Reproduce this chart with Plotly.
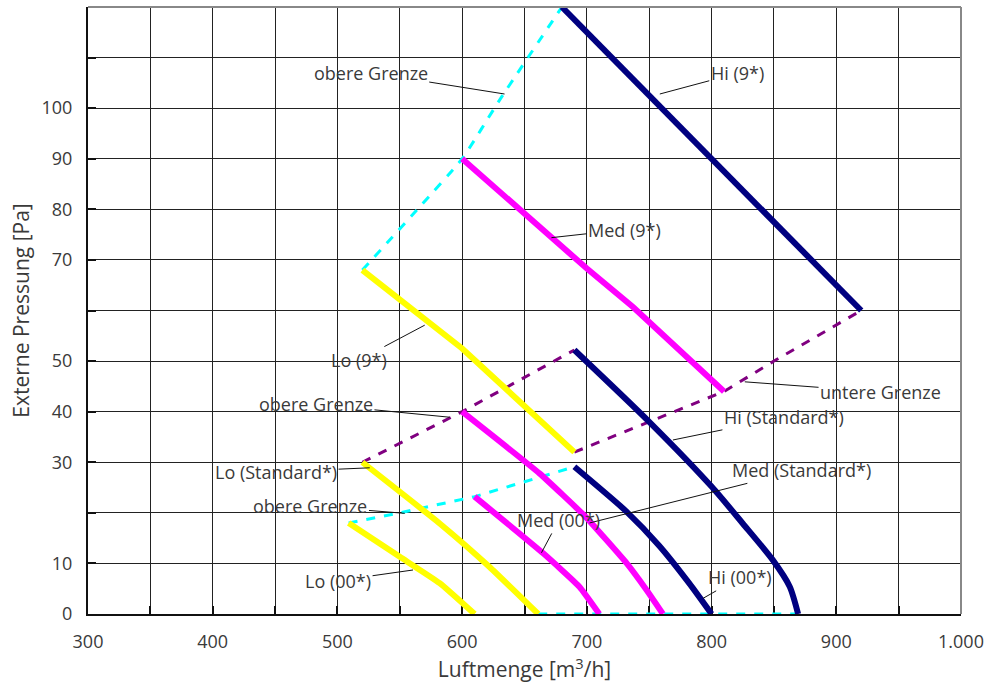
import plotly.graph_objects as go

# ---- data (Luftmenge m3/h, externe Pressung Pa) ----
hi9_x = [680, 920]
hi9_y = [120, 60]
med9_x = [600, 700, 737, 810]
med9_y = [90, 68.3, 60.7, 44]
lo9_x = [520, 600, 690]
lo9_y = [68, 52.5, 32]

hiStd_x = [690, 750, 800, 825, 849, 862.7, 869.4]
hiStd_y = [52.2, 38, 25.2, 17.9, 10.7, 5.4, 0]
medStd_x = [600, 662, 699, 732, 748, 761]
medStd_y = [40, 27.8, 19.2, 10, 4.7, 0]
loStd_x = [520, 582, 622, 661]
loStd_y = [30, 17.9, 9.3, 0]

hi00_x = [690, 732, 758, 782, 800]
hi00_y = [29.1, 20.2, 13.5, 6.1, 0]
med00_x = [610, 665, 694, 710]
med00_y = [23.2, 12, 5.4, 0]
lo00_x = [509, 550, 582, 610]
lo00_y = [18, 11.3, 6.1, 0]

upper9_x = [520, 566, 600, 630, 680]
upper9_y = [68, 80.5, 90, 101.6, 120]
upperStd_x = [520, 600, 690]
upperStd_y = [30, 40, 52.2]
lower_x = [690, 810, 850, 920]
lower_y = [32, 44, 50, 60]
upper00_x = [509, 550, 610, 690]
upper00_y = [18, 20, 23.2, 29.1]
base_x = [661, 869]
base_y = [0, 0]

x_tickvals = [300, 400, 500, 600, 700, 800, 900, 1000]
x_ticktext = ["300", "400", "500", "600", "700", "800", "900", "1.000"]
y_tickvals = [0, 10, 30, 40, 50, 70, 80, 90, 100]
y_ticktext = ["0", "10", "30", "40", "50", "70", "80", "90", "100"]

labels = ["obere Grenze", "Hi (9*)", "Med (9*)", "Lo (9*)", "obere Grenze",
          "untere Grenze", "Hi (Standard*)", "Lo (Standard*)", "Med (Standard*)",
          "obere Grenze", "Med (00*)", "Lo (00*)", "Hi (00*)"]
label_x = [526.7, 820.6, 730.4, 517.2, 482.8, 935.5, 858, 450.8, 871.8, 478.4, 677.6, 500.5, 822.6]
label_y = [107, 106.9, 76.0, 50.2, 41.5, 43.9, 38.9, 28.1, 28.5, 21.4, 18.6, 6.6, 7.25]
point_x = [634, 758.5, 671.6, 570, 590, 826.6, 769, 525.9, 702.2, 554, 663.6, 560.6, 793.2]
point_y = [102.8, 102.8, 74.4, 57.1, 38.9, 45.9, 34.4, 28.9, 18, 19.9, 12.1, 8.7, 3.1]

NAVY = "#000080"
MAG = "#ff00ff"
YEL = "#ffff00"
CYAN = "#00ffff"
PURP = "#800080"
TXT = "#3a3a3a"
FONT = "Open Sans"

fig = go.Figure()

def add_line(x, y, color, width, dash="solid", shape="linear", smooth=0.5):
    fig.add_trace(go.Scatter(x=x, y=y, mode="lines", cliponaxis=False,
                             line=dict(color=color, width=width, dash=dash, shape=shape,
                                       smoothing=smooth),
                             hoverinfo="skip", showlegend=False))

# boundaries
add_line(upper9_x, upper9_y, CYAN, 3, "dash", "spline")
add_line(upperStd_x, upperStd_y, PURP, 3, "dash")
add_line(lower_x, lower_y, PURP, 3, "dash")
add_line(upper00_x, upper00_y, CYAN, 3, "dash")
add_line(base_x, base_y, CYAN, 3, "dash")

# fan curves
add_line(lo9_x, lo9_y, YEL, 6)
add_line(med9_x, med9_y, MAG, 6)
add_line(hi9_x, hi9_y, NAVY, 6)
add_line(loStd_x, loStd_y, YEL, 6, shape="spline", smooth=0.4)
add_line(medStd_x, medStd_y, MAG, 6, shape="spline", smooth=0.4)
add_line(hiStd_x, hiStd_y, NAVY, 6, shape="spline", smooth=0.7)
add_line(lo00_x, lo00_y, YEL, 6, shape="spline", smooth=0.4)
add_line(med00_x, med00_y, MAG, 6, shape="spline", smooth=0.4)
add_line(hi00_x, hi00_y, NAVY, 6, shape="spline", smooth=0.6)

for t, lx, ly, px, py in zip(labels, label_x, label_y, point_x, point_y):
    fig.add_annotation(x=px, y=py, ax=lx, ay=ly, xref="x", yref="y",
                       axref="x", ayref="y", text=t, showarrow=True,
                       arrowhead=0, arrowwidth=1, arrowcolor="#111111",
                       standoff=0, startstandoff=0,
                       font=dict(family=FONT, size=18, color=TXT))

fig.update_xaxes(range=[300, 1000], tickvals=x_tickvals, ticktext=x_ticktext,
                 showgrid=True, gridcolor="#222222", gridwidth=1,
                 minor=dict(dtick=50, showgrid=True, gridcolor="#222222", gridwidth=1,
                            ticks="inside", ticklen=8, tickcolor="#111111", tickwidth=2),
                 showline=True, linecolor="#111111", linewidth=2,
                 ticks="inside", ticklen=8, tickcolor="#111111", tickwidth=2,
                 ticklabelstandoff=10,
                 zeroline=False, layer="below traces", automargin=False,
                 tickfont=dict(family=FONT, size=18, color=TXT),
                 title=dict(text="Luftmenge [m<sup>3</sup>/h]", standoff=8,
                            font=dict(family=FONT, size=21, color=TXT)))
fig.update_yaxes(range=[0, 120], tickvals=y_tickvals, ticktext=y_ticktext,
                 showgrid=True, gridcolor="#222222", gridwidth=1,
                 minor=dict(dtick=10, showgrid=True, gridcolor="#222222", gridwidth=1,
                            ticks="inside", ticklen=8, tickcolor="#111111", tickwidth=2),
                 showline=True, linecolor="#111111", linewidth=2,
                 ticks="inside", ticklen=8, tickcolor="#111111", tickwidth=2,
                 ticklabelstandoff=10,
                 zeroline=False, layer="below traces", automargin=False,
                 tickfont=dict(family=FONT, size=18, color=TXT),
                 title=dict(text="Externe Pressung [Pa]", standoff=6,
                            font=dict(family=FONT, size=21, color=TXT)))

# gray top / right border
fig.add_shape(type="line", xref="paper", yref="paper", x0=0, x1=1, y0=1, y1=1,
              line=dict(color="#888888", width=2))
fig.add_shape(type="line", xref="paper", yref="paper", x0=1, x1=1, y0=0, y1=1,
              line=dict(color="#888888", width=2))

fig.update_layout(width=987, height=689, plot_bgcolor="white", paper_bgcolor="white",
                  margin=dict(l=88, r=26, t=7, b=75), showlegend=False)

fig.write_html("out.html", config={"displayModeBar": False},
               post_script="document.body.style.margin='0px';")
